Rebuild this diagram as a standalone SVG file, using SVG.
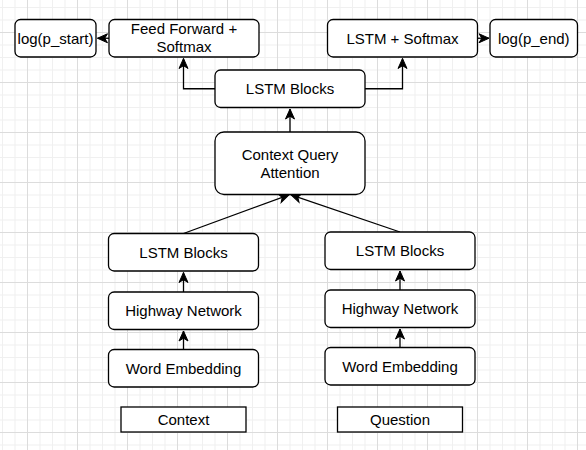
<svg xmlns="http://www.w3.org/2000/svg" width="586" height="450" viewBox="0 0 586 450">
<style>
.n{fill:#fff;stroke:#000;stroke-width:1.3}
.t{font-family:"Liberation Sans",Arial,Helvetica,sans-serif;font-size:15px;fill:#000;text-anchor:middle}
.c{fill:none;stroke:#000;stroke-width:1.3;marker-end:url(#arr)}
</style>
<defs>
<pattern id="grid" patternUnits="userSpaceOnUse" x="27" y="32" width="50" height="50">
<rect x="0" y="0" width="50" height="50" fill="#fff"/>
<g fill="#f0f0f0">
<rect x="12.5" y="0" width="1" height="50"/>
<rect x="25" y="0" width="1" height="50"/>
<rect x="37.5" y="0" width="1" height="50"/>
<rect x="0" y="12.5" width="50" height="1"/>
<rect x="0" y="25" width="50" height="1"/>
<rect x="0" y="37.5" width="50" height="1"/>
</g>
<g fill="#dcdcdc">
<rect x="0" y="0" width="1" height="50"/>
<rect x="0" y="0" width="50" height="1"/>
</g>
</pattern>
<marker id="arr" markerUnits="userSpaceOnUse" markerWidth="12" markerHeight="12" refX="0" refY="0" orient="auto" overflow="visible">
<path d="M0,0 L-10,-4.5 L-7.2,0 L-10,4.5 Z" fill="#000" stroke="#000" stroke-width="1"/>
</marker>
</defs>
<rect x="0" y="0" width="586" height="450" fill="url(#grid)"/>
<g id="connectors">
<path class="c" d="M109,38.25 L97.5,38.25"/>
<path class="c" d="M477.5,38.25 L489,38.25"/>
<path class="c" d="M215,88.75 L183.5,88.75 L183.5,58.5"/>
<path class="c" d="M365,88.75 L402.5,88.75 L402.5,58.5"/>
<path class="c" d="M290,132 L290,109"/>
<path class="c" d="M183.5,233.5 L289,194.8"/>
<path class="c" d="M400,232 L291,194.8"/>
<path class="c" d="M183.5,292 L183.5,272.5"/>
<path class="c" d="M183.5,349.5 L183.5,331"/>
<path class="c" d="M400,290 L400,271"/>
<path class="c" d="M400,347.5 L400,329"/>
</g>
<g id="pstart"><rect class="n" x="15" y="19.5" width="81" height="37.5" rx="5.6"/><text class="t" x="55.5" y="43.6">log(p_start)</text></g>
<g id="ff"><rect class="n" x="109" y="19.5" width="150" height="37.5" rx="5.6"/><text class="t" x="184" y="34.4">Feed Forward +</text><text class="t" x="184" y="52.4">Softmax</text></g>
<g id="lstmsm"><rect class="n" x="327.5" y="19.5" width="150" height="37.5" rx="5.6"/><text class="t" x="402.5" y="43.6">LSTM + Softmax</text></g>
<g id="pend"><rect class="n" x="490" y="19.5" width="87.5" height="37.5" rx="5.6"/><text class="t" x="533.75" y="43.6">log(p_end)</text></g>
<g id="lstmtop"><rect class="n" x="215" y="70" width="150" height="37.5" rx="5.6"/><text class="t" x="290" y="94.1">LSTM Blocks</text></g>
<g id="cqa"><rect class="n" x="215" y="132" width="150" height="62.5" rx="9"/><text class="t" x="290" y="159.7">Context Query</text><text class="t" x="290" y="177.7">Attention</text></g>
<g id="lstmL"><rect class="n" x="108.5" y="233.5" width="150" height="37.5" rx="5.6"/><text class="t" x="183.5" y="257.8">LSTM Blocks</text></g>
<g id="hwL"><rect class="n" x="108.5" y="292" width="150" height="37.5" rx="5.6"/><text class="t" x="183.5" y="316.3">Highway Network</text></g>
<g id="weL"><rect class="n" x="108.5" y="349.5" width="150" height="37.5" rx="5.6"/><text class="t" x="183.5" y="373.8">Word Embedding</text></g>
<g id="ctx"><rect class="n" x="121" y="407" width="125" height="25"/><text class="t" x="183.5" y="424.9">Context</text></g>
<g id="lstmR"><rect class="n" x="325" y="232" width="150" height="37.5" rx="5.6"/><text class="t" x="400" y="256.3">LSTM Blocks</text></g>
<g id="hwR"><rect class="n" x="325" y="290" width="150" height="37.5" rx="5.6"/><text class="t" x="400" y="314.3">Highway Network</text></g>
<g id="weR"><rect class="n" x="325" y="347.5" width="150" height="37.5" rx="5.6"/><text class="t" x="400" y="371.8">Word Embedding</text></g>
<g id="q"><rect class="n" x="337.5" y="407" width="125" height="25"/><text class="t" x="400" y="424.9">Question</text></g>
</svg>
